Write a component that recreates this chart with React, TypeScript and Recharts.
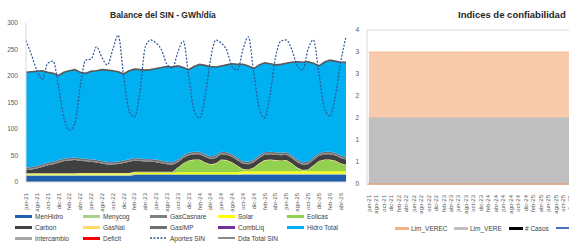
import React from "react";
import {
  Area,
  AreaChart,
  ComposedChart,
  Bar,
  Line,
  ReferenceLine,
  XAxis,
  YAxis,
} from "recharts";

const months = [
  "jun-21", "jul-21", "ago-21", "sep-21", "oct-21", "nov-21", "dic-21",
  "ene-22", "feb-22", "mar-22", "abr-22", "may-22", "jun-22", "jul-22", "ago-22", "sep-22", "oct-22", "nov-22", "dic-22",
  "ene-23", "feb-23", "mar-23", "abr-23", "may-23", "jun-23", "jul-23", "ago-23", "sep-23", "oct-23", "nov-23", "dic-23",
  "ene-24", "feb-24", "mar-24", "abr-24", "may-24", "jun-24", "jul-24", "ago-24", "sep-24", "oct-24", "nov-24", "dic-24",
  "ene-25", "feb-25", "mar-25", "abr-25", "may-25", "jun-25", "jul-25", "ago-25", "sep-25", "oct-25", "nov-25", "dic-25",
  "ene-26", "feb-26", "mar-26", "abr-26", "may-26",
];

// GWh/día, stacked from the bottom
const menHidro = [
  12, 12, 12, 12, 12, 12, 12, 12, 12, 12, 12, 12, 12, 12, 12, 12, 12, 12, 12, 12,
  13, 13, 13, 13, 13, 13, 13, 13, 13, 13, 13, 13, 13, 13, 13, 13, 13, 13, 13, 13,
  14, 14, 14, 14, 14, 14, 14, 14, 14, 14, 14, 14, 14, 14, 14, 14, 14, 14, 14, 14,
];
const menycog = [
  2, 2, 2, 2, 2, 2, 2, 2, 2, 2, 2, 2, 2, 2, 2, 2, 2, 2, 2, 2,
  2, 2, 2, 2, 2, 2, 2, 2, 2, 2, 2, 2, 2, 2, 2, 2, 2, 2, 2, 2,
  2, 2, 2, 2, 2, 2, 2, 2, 2, 2, 2, 2, 2, 2, 2, 2, 2, 2, 2, 2,
];
const solar = [
  1, 1, 1, 1, 1, 1, 1, 1, 1, 1, 1.5, 1.5, 1.5, 1.5, 1.5, 1.5, 1.5, 1.5, 1.5, 1.5,
  2, 2, 2, 2, 2, 2, 2, 2, 3.5, 3.5, 3.5, 3.5, 3.5, 3.5, 3.5, 3.5, 3.5, 3.5, 3.5, 3.5,
  4.5, 4.5, 4.5, 4.5, 4.5, 4.5, 4.5, 4.5, 4.5, 4.5, 4.5, 4.5, 4.5, 4.5, 4.5, 4.5, 4.5, 4.5, 4.5, 4.5,
];
const eolicas = [
  0.5, 0.5, 0.5, 0.5, 0.5, 0.5, 0.5, 0.5, 0.5, 0.5, 0.5, 0.5, 0.5, 0.5, 0.5, 0.5, 0.5, 0.5, 0.5, 0.5,
  1.5, 1.5, 1.5, 1.5, 1.5, 1.5, 1.5, 1.5, 8, 16, 21, 23, 23, 18, 14, 16, 23, 22, 18, 11,
  3, 2, 6, 14, 20, 21, 20, 19, 20, 14, 6, 1, 2, 10, 18, 21, 21, 19, 14, 11,
];
const gasNal = [
  1, 1, 1, 1, 1, 1, 1, 1, 1, 1, 1, 1, 1, 1, 1, 1, 1, 1, 1, 1,
  1, 1, 1, 1, 1, 1, 1, 1, 1, 1, 1, 1, 1, 1, 1, 1, 1, 1, 1, 1,
  1, 1, 1, 1, 1, 1, 1, 1, 1, 1, 1, 1, 1, 1, 1, 1, 1, 1, 1, 1,
];
const carbon = [
  6, 7, 9, 12, 15, 17, 20, 23, 24, 25, 23, 22, 21, 20, 18, 16, 16, 17, 19, 21,
  21, 20, 19, 19, 18, 16, 14, 13, 10, 10, 10, 10, 10, 10, 10, 10, 10, 10, 10, 10,
  10, 10, 10, 10, 10, 10, 10, 10, 10, 10, 10, 10, 10, 10, 10, 10, 10, 10, 10, 10,
];
const gasCasanare = [
  1.5, 1.5, 1.5, 1.5, 1.5, 1.5, 1.5, 1.5, 1.5, 1.5, 1.5, 1.5, 1.5, 1.5, 1.5, 1.5, 1.5, 1.5, 1.5, 1.5,
  1.5, 1.5, 1.5, 1.5, 1.5, 1.5, 1.5, 1.5, 1.5, 1.5, 1.5, 1.5, 1.5, 1.5, 1.5, 1.5, 1.5, 1.5, 1.5, 1.5,
  1.5, 1.5, 1.5, 1.5, 1.5, 1.5, 1.5, 1.5, 1.5, 1.5, 1.5, 1.5, 1.5, 1.5, 1.5, 1.5, 1.5, 1.5, 1.5, 1.5,
];
const gasImp = [
  3, 3, 3, 3, 3, 3, 3, 3, 3, 3, 3, 3, 3, 3, 3, 3, 3, 3, 3, 3,
  3, 3, 3, 3, 3, 3, 3, 3, 3, 3, 3, 3, 3, 3, 3, 3, 3, 3, 3, 3,
  3, 3, 3, 3, 3, 3, 3, 3, 3, 3, 3, 3, 3, 3, 3, 3, 3, 3, 3, 3,
];
const combLiq = [
  0.3, 0.3, 0.3, 0.3, 0.3, 0.3, 0.3, 0.3, 0.3, 0.3, 0.3, 0.3, 0.3, 0.3, 0.3, 0.3, 0.3, 0.3, 0.3, 0.3,
  0.3, 0.3, 0.3, 0.3, 0.3, 0.3, 0.3, 0.3, 0.3, 0.3, 0.3, 0.3, 0.3, 0.3, 0.3, 0.3, 0.3, 0.3, 0.3, 0.3,
  0.3, 0.3, 0.3, 0.3, 0.3, 0.3, 0.3, 0.3, 0.3, 0.3, 0.3, 0.3, 0.3, 0.3, 0.3, 0.3, 0.3, 0.3, 0.3, 0.3,
];
const intercambio = [
  0, 0, 0, 0, 0, 0, 0, 0, 0, 0, 0, 0, 0, 0, 0, 0, 0, 0, 0, 0,
  0, 0, 0, 0, 0, 0, 0, 0, 0, 0, 0, 0, 0, 0, 0, 0, 0, 0, 0, 0,
  0, 0, 0, 0, 0, 0, 0, 0, 0, 0, 0, 0, 0, 0, 0, 0, 0, 0, 0, 0,
];
const deficit = [
  0, 0, 0, 0, 0, 0, 0, 0, 0, 0, 0, 0, 0, 0, 0, 0, 0, 0, 0, 0,
  0, 0, 0, 0, 0, 0, 0, 0, 0, 0, 0, 0, 0, 0, 0, 0, 0, 0, 0, 0,
  0, 0, 0, 0, 0, 0, 0, 0, 0, 0, 0, 0, 0, 0, 0, 0, 0, 0, 0, 0,
];
const hidroTotal = [
  180, 180, 179, 177, 171, 167, 160, 163, 165, 166, 162, 161, 166, 168, 172, 173, 172, 169, 163, 167,
  168, 168, 168, 169, 172, 176, 180, 180, 177, 166, 157, 161, 165, 168, 170, 167, 162, 165, 171, 177,
  183, 181, 172, 171, 169, 166, 165, 167, 168, 176, 185, 189, 189, 178, 165, 169, 173, 173, 176, 179,
];
const aportesSin = [
  267, 240, 211, 194, 224, 228, 180, 120, 98, 110, 180, 230, 232, 255, 235, 221, 250, 277, 200, 135,
  123, 170, 255, 268, 262, 249, 222, 215, 245, 266, 200, 135, 121, 160, 230, 268, 262, 249, 218, 211,
  250, 274, 205, 140, 121, 165, 235, 266, 268, 250, 220, 211, 250, 268, 205, 140, 124, 160, 225, 274,
];
const ddaTotalSin = [
  207, 208, 209, 210, 207, 205, 201, 207, 210, 212, 207, 205, 209, 210, 212, 211, 210, 208, 204, 210,
  213, 212, 211, 212, 214, 216, 218, 217, 219, 216, 212, 218, 222, 220, 218, 217, 219, 221, 223, 222,
  222, 219, 214, 221, 225, 223, 221, 222, 224, 226, 227, 226, 227, 224, 219, 226, 230, 228, 226, 226,
];
const balanceTicks = [0, 50, 100, 150, 200, 250, 300];

// Índices de confiabilidad
const limVerec = [
  3, 3, 3, 3, 3, 3, 3, 3, 3, 3, 3, 3, 3, 3, 3, 3, 3, 3, 3, 3,
  3, 3, 3, 3, 3, 3, 3, 3, 3, 3, 3, 3, 3, 3, 3, 3, 3, 3, 3, 3,
  3, 3, 3, 3, 3, 3, 3, 3, 3, 3, 3, 3, 3, 3, 3, 3, 3, 3, 3, 3,
];
const limVere = [
  1.5, 1.5, 1.5, 1.5, 1.5, 1.5, 1.5, 1.5, 1.5, 1.5, 1.5, 1.5, 1.5, 1.5, 1.5, 1.5, 1.5, 1.5, 1.5, 1.5,
  1.5, 1.5, 1.5, 1.5, 1.5, 1.5, 1.5, 1.5, 1.5, 1.5, 1.5, 1.5, 1.5, 1.5, 1.5, 1.5, 1.5, 1.5, 1.5, 1.5,
  1.5, 1.5, 1.5, 1.5, 1.5, 1.5, 1.5, 1.5, 1.5, 1.5, 1.5, 1.5, 1.5, 1.5, 1.5, 1.5, 1.5, 1.5, 1.5, 1.5,
];
const casos = [
  0, 0, 0, 0, 0, 0, 0, 0, 0, 0, 0, 0, 0, 0, 0, 0, 0, 0, 0, 0,
  0, 0, 0, 0, 0, 0, 0, 0, 0, 0, 0, 0, 0, 0, 0, 0, 0, 0, 0, 0,
  0, 0, 0, 0, 0, 0, 0, 0, 0, 0, 0, 0, 0, 0, 0, 0, 0, 0, 0, 0,
];
const indiceTicks = [0, 0.5, 1, 1.5, 2, 2.5, 3, 3.5];

const stackSeries = [
  { key: "menHidro", name: "MenHidro", color: "#1f5fad", values: menHidro },
  { key: "menycog", name: "Menycog", color: "#a9d18e", values: menycog },
  { key: "solar", name: "Solar", color: "#ffff00", values: solar },
  { key: "eolicas", name: "Eolicas", color: "#92d050", values: eolicas },
  { key: "gasNal", name: "GasNal", color: "#ffd966", values: gasNal },
  { key: "carbon", name: "Carbon", color: "#404040", values: carbon },
  { key: "gasCasanare", name: "GasCasnare", color: "#7f7f7f", values: gasCasanare },
  { key: "gasImp", name: "GasIMP", color: "#6f6f6f", values: gasImp },
  { key: "combLiq", name: "CombLiq", color: "#7030a0", values: combLiq },
  { key: "intercambio", name: "Intercambio", color: "#a6a6a6", values: intercambio },
  { key: "deficit", name: "Deficit", color: "#ff0000", values: deficit },
  { key: "hidroTotal", name: "Hidro Total", color: "#00b0f0", values: hidroTotal },
];

const legendOrder = [
  "MenHidro", "Menycog", "GasCasnare", "Solar", "Eolicas",
  "Carbon", "GasNal", "GasIMP", "CombLiq", "Hidro Total",
  "Intercambio", "Deficit", "Aportes SIN", "Dda Total SIN",
];

const balanceData = months.map((m, i) => {
  const row: Record<string, string | number> = { month: m, aportes: aportesSin[i], dda: ddaTotalSin[i] };
  stackSeries.forEach((s) => (row[s.key] = s.values[i]));
  return row;
});

const indiceData = months.map((m, i) => ({
  month: m,
  limVerec: limVerec[i],
  limVere: limVere[i],
  casos: casos[i],
  indicador: casos[i],
}));

const font = "'Liberation Sans', Arial, sans-serif";

const RotTick = (props: any) => {
  const { x, y, payload } = props;
  const ty = y + 3;
  return (
    <text
      x={x}
      y={ty}
      transform={`rotate(-90 ${x} ${ty})`}
      textAnchor="end"
      dominantBaseline="central"
      fontSize={6}
      fontFamily={font}
      fill="#595959"
    >
      {payload.value}
    </text>
  );
};

type LegendItem = { name: string; color: string; kind: "bar" | "dash" | "line" };

const Swatch = ({ item, width }: { item: LegendItem; width: number }) => {
  if (item.kind === "dash")
    return (
      <svg width={width} height={4} style={{ display: "block" }}>
        <line x1={0} y1={2} x2={width} y2={2} stroke={item.color} strokeWidth={1.3} strokeDasharray="2 1.5" />
      </svg>
    );
  const h = item.kind === "line" ? 1.2 : 3;
  return <div style={{ width, height: h, background: item.color }} />;
};

function BalanceLegend() {
  const items: LegendItem[] = [
    ...stackSeries.map((s) => ({ name: s.name, color: s.color, kind: "bar" as const })),
    { name: "Aportes SIN", color: "#2f5597", kind: "dash" },
    { name: "Dda Total SIN", color: "#8c8c8c", kind: "line" },
  ].sort((a, b) => legendOrder.indexOf(a.name) - legendOrder.indexOf(b.name));
  const colX = [15, 83, 150, 218, 287];
  const rowY = [216, 227, 238];
  return (
    <>
      {items.map((it, i) => (
        <div
          key={it.name}
          style={{
            position: "absolute",
            left: colX[i % 5],
            top: rowY[Math.floor(i / 5)] - 5,
            height: 10,
            display: "flex",
            alignItems: "center",
            gap: 3,
            fontSize: 6.5,
            fontFamily: font,
            color: "#404040",
            whiteSpace: "nowrap",
          }}
        >
          <Swatch item={it} width={17} />
          <span>{it.name}</span>
        </div>
      ))}
    </>
  );
}

function IndiceLegend() {
  const items: LegendItem[] = [
    { name: "Lim_VEREC", color: "#f4b183", kind: "bar" },
    { name: "Lim_VERE", color: "#bfbfbf", kind: "bar" },
    { name: "# Casos", color: "#000000", kind: "bar" },
    { name: "Indicador", color: "#4472c4", kind: "line" },
  ];
  const xs = [395, 454, 509, 556];
  return (
    <>
      {items.map((it, i) => (
        <div
          key={it.name}
          style={{
            position: "absolute",
            left: xs[i],
            top: 223,
            height: 10,
            display: "flex",
            alignItems: "center",
            gap: 2,
            fontSize: 6.5,
            fontFamily: font,
            color: "#404040",
            whiteSpace: "nowrap",
          }}
        >
          <Swatch item={it} width={14} />
          <span>{it.name}</span>
        </div>
      ))}
    </>
  );
}

export default function App() {
  return (
    <div
      style={{
        position: "fixed",
        left: 0,
        top: 0,
        width: 569,
        height: 248,
        overflow: "hidden",
        background: "#ffffff",
        fontFamily: font,
      }}
    >
      <div style={{ position: "absolute", left: 110, top: 10, fontSize: 8.5, fontWeight: 700, color: "#262626" }}>
        Balance del SIN - GWh/día
      </div>
      <div style={{ position: "absolute", left: 458, top: 9, fontSize: 9.5, fontWeight: 700, color: "#262626", whiteSpace: "nowrap" }}>
        Indices de confiabilidad
      </div>

      <div style={{ position: "absolute", left: 0, top: 0 }}>
        <AreaChart width={360} height={216} data={balanceData} margin={{ top: 23, right: 14, left: 0, bottom: 0 }}>
          <XAxis
            dataKey="month"
            interval={1}
            tick={<RotTick />}
            tickLine={false}
            axisLine={{ stroke: "#d9d9d9" }}
            height={34}
          />
          <YAxis
            domain={[0, 300]}
            ticks={balanceTicks}
            width={26}
            tickLine={false}
            axisLine={{ stroke: "#d9d9d9" }}
            tick={{ fontSize: 6.5, fill: "#595959", fontFamily: font }}
            interval={0}
          />
          {stackSeries.map((s) => (
            <Area
              key={s.key}
              dataKey={s.key}
              name={s.name}
              stackId="gen"
              type="linear"
              fill={s.color}
              fillOpacity={1}
              stroke="none"
              isAnimationActive={false}
            />
          ))}
          <Area
            dataKey="dda"
            name="Dda Total SIN"
            type="linear"
            fill="none"
            stroke="#595959"
            strokeWidth={1.6}
            isAnimationActive={false}
          />
          <Area
            dataKey="aportes"
            name="Aportes SIN"
            type="monotone"
            fill="none"
            stroke="#2f5597"
            strokeWidth={1.2}
            strokeDasharray="2 1.5"
            isAnimationActive={false}
          />
        </AreaChart>
      </div>

      <div style={{ position: "absolute", left: 340, top: 0 }}>
        <ComposedChart width={260} height={216} data={indiceData} margin={{ top: 30, right: 9, left: 0, bottom: 0 }}>
          <XAxis
            dataKey="month"
            interval={1}
            tick={<RotTick />}
            tickLine={false}
            axisLine={{ stroke: "#f4b183", strokeWidth: 1.5 }}
            height={32}
          />
          <YAxis
            domain={[0, 3.5]}
            ticks={indiceTicks}
            width={27}
            tickLine={false}
            axisLine={{ stroke: "#d9d9d9" }}
            tick={{ fontSize: 6.5, fill: "#595959", fontFamily: font }}
            tickFormatter={(v: number) => String(Math.round(v))}
            interval={0}
          />
          <ReferenceLine y={3.5} stroke="#d9d9d9" />
          <Area
            dataKey="limVerec"
            name="Lim_VEREC"
            type="linear"
            fill="#f8cbad"
            fillOpacity={1}
            stroke="#f4b183"
            strokeWidth={0.8}
            isAnimationActive={false}
          />
          <Area
            dataKey="limVere"
            name="Lim_VERE"
            type="linear"
            fill="#bfbfbf"
            fillOpacity={1}
            stroke="#bfbfbf"
            isAnimationActive={false}
          />
          <Bar dataKey="casos" name="# Casos" fill="#000000" isAnimationActive={false} />
          <Line dataKey="indicador" name="Indicador" stroke="#4472c4" dot={false} isAnimationActive={false} />
        </ComposedChart>
      </div>

      <BalanceLegend />
      <IndiceLegend />
    </div>
  );
}
